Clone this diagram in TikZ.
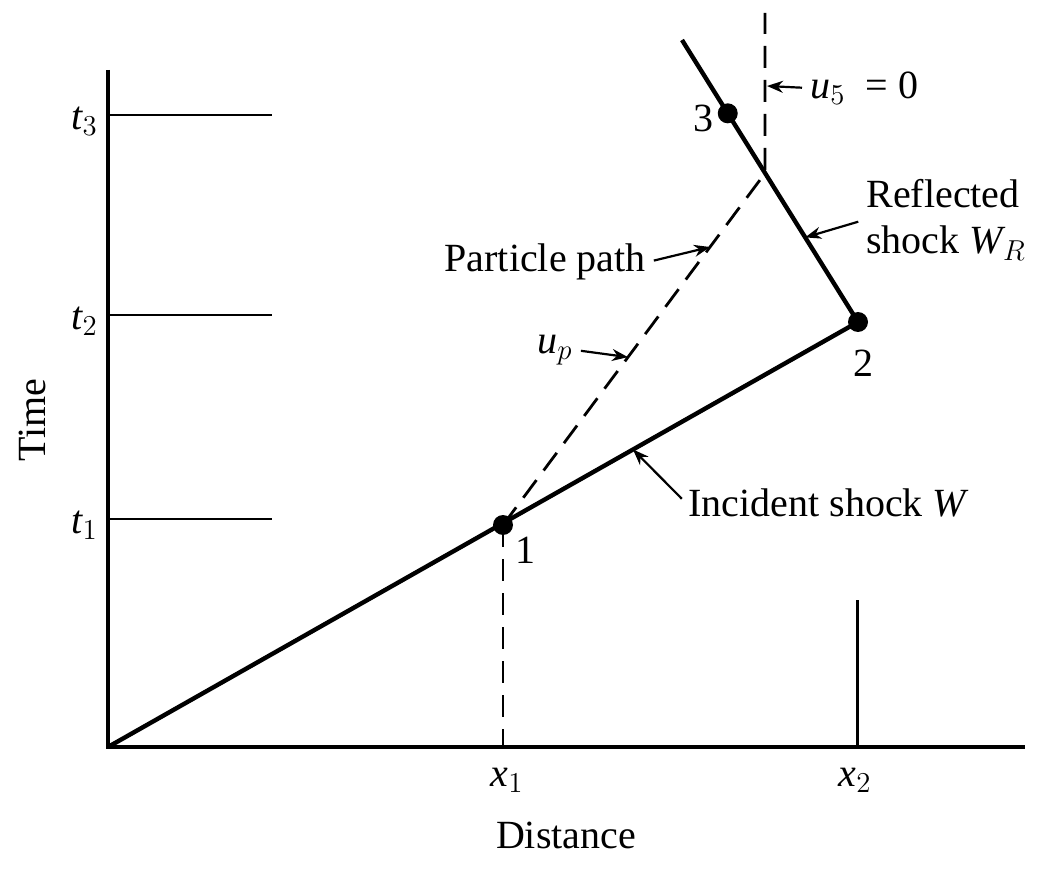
\documentclass[tikz,border=0pt]{standalone}
\usepackage{fontspec}
\setmainfont{Liberation Serif}
\usetikzlibrary{arrows.meta, calc, positioning}

\begin{document}
\begin{tikzpicture}[
    x=0.5pt, y=-0.5pt,
    axis/.style={line width=2pt},
    tick/.style={line width=1pt},
    shock/.style={line width=2.2pt},
    partpath/.style={line width=1.4pt, dash pattern=on 11pt off 6pt},
    event/.style={circle, fill=black, inner sep=0pt, minimum size=10pt},
    tag/.style={font=\fontsize{20}{23}\selectfont, inner sep=1pt},
    lead/.style={line width=1.1pt,->,>={Stealth[length=8pt,width=6pt]},shorten <=3pt}
]
\useasboundingbox (0,0) rectangle (1041,872);

% axes
\coordinate (O) at (108,747);
\coordinate (ytop) at (108,70);
\coordinate (xend) at (1025,747);
\draw[axis] (ytop) -- (O) -- (xend);

% time levels
\foreach \n/\y in {1/519,2/315,3/115}{
  \draw[tick] (108,\y) -- (272,\y);
  \node[tag, anchor=east] (t\n) at (100,\y+6) {$\mathit{t}_\n$};
}

% shock paths
\coordinate (p1) at (503,525);
\coordinate (p2) at (858,322);
\coordinate (rtop) at (682,40);
\coordinate (p3) at ($(p2)!0.74!(rtop)$);
\coordinate (m) at ($(p2)!0.528!(rtop)$);
\coordinate (wtop) at (765,13);
\coordinate (x2top) at (857,600);

\draw[shock] (O) -- (p2) -- (rtop);
\draw[partpath] (p1) -- (m) -- (wtop);
\draw[partpath] (p1) -- (p1 |- O);
\draw[line width=1.5pt] (x2top) -- (x2top |- O);

\node[event] (e1) at (p1) {};
\node[event] (e2) at (p2) {};
\node[event] (e3) at (p3) {};

% labels
\node[tag] (n1) at (525,550) {1};
\node[tag] (n2) at (863,363) {2};
\node[tag] (n3) at (703,118) {3};
\node[tag] (x1) at (507,780) {$\mathit{x}_1$};
\node[tag] (x2) at (855,780) {$\mathit{x}_2$};
\node[tag] (dist) at (566,835) {Distance};
\node[tag, rotate=90] (time) at (32,420) {Time};

\node[tag, anchor=west] (u5) at (808,88) {$\mathit{u}_5$\ \ = 0};
\draw[lead] (u5.west) -- (767,86);

\node[tag, anchor=west, align=left] (refl) at (864,220) {Reflected\\shock $\mathit{W}_R$};
\draw[lead] (refl.west) -- ($(p2)!0.3!(rtop)$);

\node[tag, anchor=east] (pp) at (648,262) {Particle path};
\draw[lead] (pp.east) -- ($(p1)!0.79!(m)$);

\node[tag] (up) at (555,350) {$\mathit{u}_p$};
\draw[lead] (up.east) -- ($(p1)!0.477!(m)$);

\node[tag, anchor=west] (inc) at (686,503) {Incident shock $\mathit{W}$};
\draw[lead] (inc.west) -- ($(O)!0.7!(p2)$);

\end{tikzpicture}
\end{document}
